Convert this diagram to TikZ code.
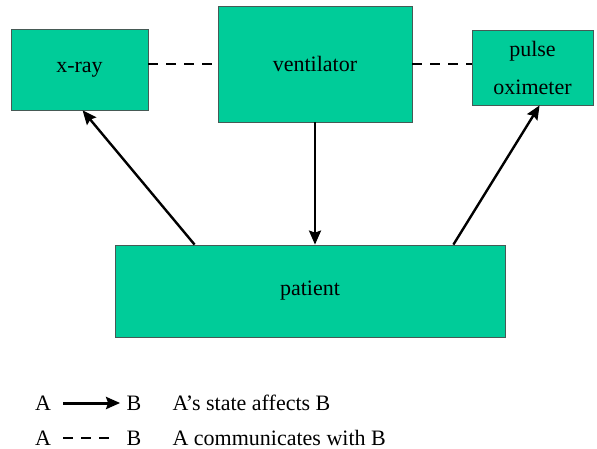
\documentclass[tikz,border=0pt]{standalone}
\usepackage{fontspec}
\setmainfont{Liberation Serif}
\usetikzlibrary{arrows.meta}
\definecolor{devicegreen}{RGB}{0,204,153}
\definecolor{boxborder}{RGB}{70,90,85}
\tikzset{
	device/.style={
			draw=boxborder, fill=devicegreen, line width=0.8pt,
			minimum width=#1, inner sep=0pt, font=\fontsize{22}{38}\selectfont
		},
	affects/.style={line width=2.4pt, -{Stealth[length=14pt,width=12pt,inset=2pt]}},
	talks/.style={line width=2.6pt, dash pattern=on 10pt off 8pt},
	legendtxt/.style={font=\fontsize{22}{24}\selectfont}
}

\begin{document}
\begin{tikzpicture}[x=1pt,y=-1pt]
        \useasboundingbox[fill=white] (0,0) rectangle (597,449);
        \node[device=137pt,minimum height=81pt] (xray) at (79.5, 69.5) {x-ray};
        \node[device=194pt,minimum height=116pt] (vent) at (315, 64) {ventilator};
        \node[device=121pt,minimum height=75pt,align=center] (pulse) at (532.5, 67.5) {pulse\\oximeter};
        \node[device=390pt,minimum height=92pt] (patient) at (310, 291) {patient};
        \draw[talks] (xray.east |- vent.west) -- (vent.west);
        \draw[talks] (vent.east) -- (vent.east -| pulse.west);
        \draw[affects] (vent.south) -- (vent.south |- patient.north);
        \draw[affects] ([xshift=80pt]patient.north west) -- ([xshift=72pt]xray.south west);
        \draw[affects] ([xshift=-52pt]patient.north east) -- ([xshift=68pt]pulse.south west);
        \node[legendtxt] (a_1) at (43, 403) {A};
        \node[legendtxt] (b_1) at (134, 403) {B};
        \node[legendtxt,anchor=west] (affects_txt) at (169, 403) {A’s state affects B};
        \node[legendtxt] (a_2) at (43, 438) {A};
        \node[legendtxt] (b_2) at (134, 438) {B};
        \node[legendtxt,anchor=west] (talks_txt) at (169, 438) {A communicates with B};
        \draw[affects,line width=3pt] ([xshift=9pt]a_1.east) -- ([xshift=-3pt]b_1.west);
        \draw[talks] ([xshift=9pt]a_2.east) -- ([xshift=-14pt]b_2.west);
    \end{tikzpicture}
\end{document}
